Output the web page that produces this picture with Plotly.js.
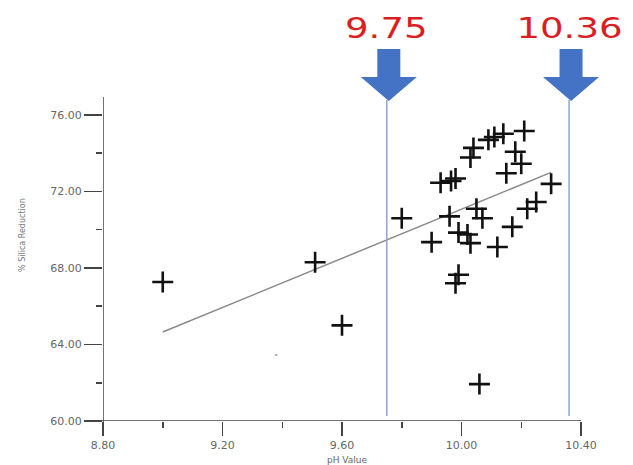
<!DOCTYPE html>
<html>
<head>
<meta charset="utf-8">
<script src="https://cdn.plot.ly/plotly-3.0.1.min.js"></script>
<style>html,body{margin:0;padding:0;background:#fff;}#chart{width:633px;height:465px;}</style>
</head>
<body>
<div id="chart"></div>
<script>
// ---- data ----
const phValues = [9.00, 9.51, 9.60, 9.80, 9.93, 9.965, 9.98, 10.03, 10.04, 10.09, 10.11, 10.14, 10.21,
                  10.18, 10.20, 10.15, 10.30, 10.05, 9.96, 10.07, 10.25, 10.22, 10.17, 10.12, 9.90,
                  9.99, 10.02, 10.03, 9.99, 9.98, 10.06];
const silicaReduction = [67.27, 68.30, 65.00, 70.60, 72.46, 72.55, 72.68, 73.78, 74.28, 74.70, 74.85, 75.02, 75.16,
                  74.08, 73.45, 72.95, 72.40, 71.10, 70.70, 70.60, 71.45, 71.10, 70.15, 69.10, 69.35,
                  69.85, 69.75, 69.30, 67.65, 67.20, 61.93];
const strayX = [9.38];
const strayY = [63.45];
const trendX = [9.00, 10.30];
const trendY = [64.65, 73.00];
const thresholds = [9.75, 10.36];
const thresholdLabels = ["9.75", "10.36"];
const xTickVals = [8.80, 9.20, 9.60, 10.00, 10.40];
const yTickVals = [60, 64, 68, 72, 76];

// ---- geometry helpers (plot area in pixels) ----
const L = 103, R = 581, T = 97, B = 421;
const xMin = 8.80, xMax = 10.40, yMin = 60, yMax = 76.94;
const pxPerX = (R - L) / (xMax - xMin);
const py2paper = py => (B - py) / (B - T);
const px2paper = px => (px - L) / (R - L);
const x2paper = x => (x - xMin) / (xMax - xMin);

const traces = [
  { x: trendX, y: trendY, type: 'scatter', mode: 'lines',
    line: { color: '#8a8a8a', width: 1.5 }, hoverinfo: 'skip' },
  { x: phValues, y: silicaReduction, type: 'scatter', mode: 'markers',
    marker: { symbol: 'cross-thin', size: 15, color: '#111', line: { color: '#111', width: 2.6 } } },
  { x: strayX, y: strayY, type: 'scatter', mode: 'markers',
    marker: { symbol: 'square', size: 2, color: '#aaa' } }
];

const shapes = [];
// axis extensions (axes cross at the origin)
shapes.push({ type: 'line', xref: 'paper', yref: 'y', x0: px2paper(89), x1: 1, y0: yMin, y1: yMin,
              line: { color: '#444', width: 1.5 } });
shapes.push({ type: 'line', xref: 'x', yref: 'paper', x0: xMin, x1: xMin, y0: py2paper(436), y1: 1,
              line: { color: '#444', width: 1.5 } });
const arrowColor = '#4472c4';
thresholds.forEach(t => {
  shapes.push({ type: 'line', xref: 'x', yref: 'paper', x0: t, x1: t, y0: py2paper(416), y1: py2paper(100),
                line: { color: '#8ea7c6', width: 1.5 } });
  const c = x2paper(t) + px2paper(L + 2);
  const sw = 11.5 / (R - L), hw = 28 / (R - L);
  const yTop = py2paper(49), yHead = py2paper(77), yTip = py2paper(101);
  const p = [[c - sw, yTop], [c + sw, yTop], [c + sw, yHead], [c + hw, yHead], [c, yTip],
             [c - hw, yHead], [c - sw, yHead]];
  shapes.push({ type: 'path', xref: 'paper', yref: 'paper',
                path: 'M' + p.map(q => q[0] + ',' + q[1]).join(' L') + ' Z',
                fillcolor: arrowColor, line: { width: 0 } });
});

const annotations = thresholds.map((t, i) => ({
  x: t, xref: 'x', y: py2paper(28), yref: 'paper', text: thresholdLabels[i], showarrow: false,
  xanchor: 'center', yanchor: 'middle',
  font: { family: 'DejaVu Sans', size: 29, color: '#dc1e23' }
}));
annotations.push({ x: px2paper(22), xref: 'paper', y: py2paper(235), yref: 'paper', text: '% Silica Reduction',
  textangle: -90, showarrow: false, xanchor: 'center', yanchor: 'middle',
  font: { family: 'DejaVu Sans', size: 8, color: '#777' } });
annotations.push({ x: px2paper(347), xref: 'paper', y: py2paper(460), yref: 'paper', text: 'pH Value',
  showarrow: false, xanchor: 'center', yanchor: 'middle',
  font: { family: 'DejaVu Sans', size: 9, color: '#666' } });

const layout = {
  width: 633, height: 465,
  margin: { l: L, r: 633 - R, t: T, b: 465 - B, pad: 0 },
  paper_bgcolor: '#fff', plot_bgcolor: '#fff',
  showlegend: false,
  xaxis: { range: [xMin, xMax], tickvals: xTickVals, tickformat: '.2f',
           showgrid: false, zeroline: false, showline: false,
           ticks: 'outside', ticklen: 14, tickwidth: 1.5, tickcolor: '#444',
           minor: { tickvals: [9.0, 9.4, 9.8, 10.2], ticks: 'outside', ticklen: 6, tickwidth: 1.5, tickcolor: '#444' },
           tickfont: { family: 'DejaVu Sans', size: 11, color: '#666' } },
  yaxis: { range: [yMin, yMax], tickvals: yTickVals, tickformat: '.2f',
           showgrid: false, zeroline: false, showline: false,
           ticks: 'outside', ticklen: 18, tickwidth: 1.5, tickcolor: '#444',
           minor: { tickvals: [62, 66, 70, 74], ticks: 'outside', ticklen: 6, tickwidth: 1.5, tickcolor: '#444' },
           tickfont: { family: 'DejaVu Sans', size: 11, color: '#666' } },
  shapes: shapes,
  annotations: annotations
};

Plotly.newPlot('chart', traces, layout, { displayModeBar: false, staticPlot: true }).then(gd => {
  // the reference lettering of the two threshold labels is horizontally stretched
  const texts = gd.querySelectorAll('.annotation .annotation-text');
  for (let i = 0; i < thresholds.length && i < texts.length; i++) {
    const el = texts[i];
    const bb = el.getBBox();
    const cx = bb.x + bb.width / 2;
    el.setAttribute('transform', 'translate(' + cx + ',0) scale(1.28,1) translate(' + (-cx) + ',0)');
  }
});
</script>
</body>
</html>
